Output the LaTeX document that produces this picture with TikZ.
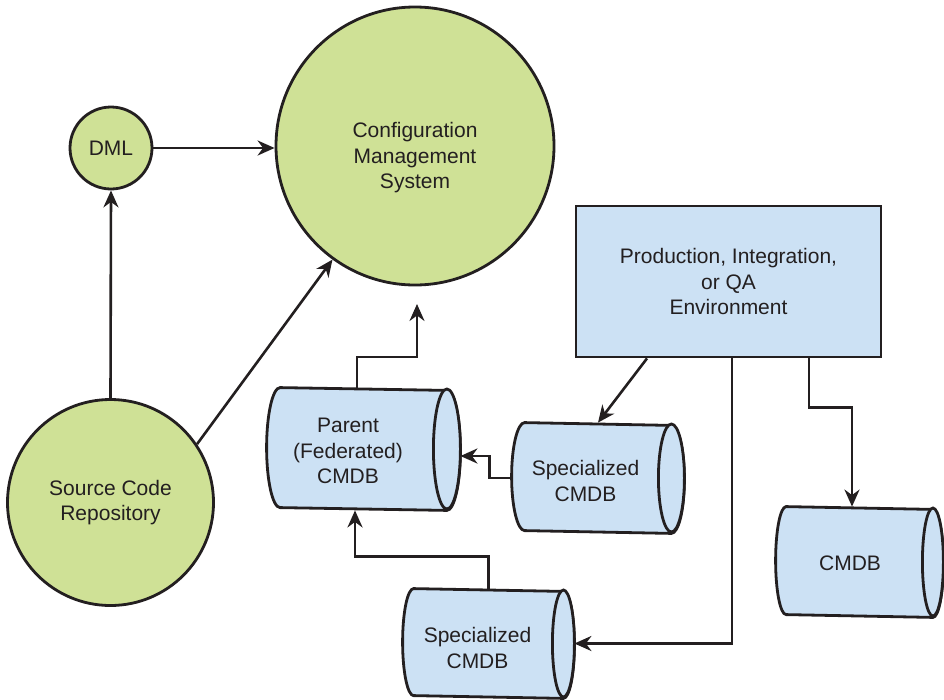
\documentclass[tikz,border=0pt]{standalone}
\usepackage{fontspec}
\setmainfont{Liberation Sans}
\usetikzlibrary{arrows.meta,calc}
\pgfdeclarelayer{background}
\pgfsetlayers{background,main}

\definecolor{ink}{HTML}{231F20}
\definecolor{leaf}{HTML}{CFE196}
\definecolor{sky}{HTML}{CCE1F4}

\tikzset{
  every node/.style={font=\fontsize{21}{25.5}\selectfont, text=ink},
  ball/.style={circle, draw=ink, fill=leaf, line width=2.8pt, inner sep=0pt, align=center},
  envbox/.style={rectangle, draw=ink, fill=sky, line width=2.8pt, inner sep=0pt, align=center},
  cylspot/.style={rectangle, inner sep=0pt, outer sep=1.4pt},
  cylline/.style={draw=ink, fill=sky, line width=2.8pt},
  caption/.style={align=center, inner sep=0pt},
  flow/.style={draw=ink, line width=2.6pt, -{Stealth[length=17pt,width=15pt,inset=5.5pt]}},
}

% horizontal storage cylinder filling the box of a named node:
% #1 node name, #2 x-radius of the end caps, #3 half the height
\newcommand\cylinderat[3]{%
  \begin{pgfonlayer}{background}
    \draw[cylline] ($(#1.north west)+(#2,0)$)
      arc[start angle=270,end angle=90,x radius=#2,y radius=#3]
      -- ($(#1.south east)+(-#2,0)$)
      arc[start angle=90,end angle=-90,x radius=#2,y radius=#3] -- cycle;
    \draw[cylline] ($(#1.east)+(-#2,0)$) ellipse[x radius=#2,y radius=#3];
  \end{pgfonlayer}%
}

\begin{document}
\begin{tikzpicture}[x=1pt,y=-1pt]
\useasboundingbox (0,0) rectangle (944,699);

% circles
\node[ball, minimum size=82pt] (dml) at (111,148) {DML};
\node[ball, minimum size=278pt] (cms) at (415,146) {};
\node[caption] (cmstext) at (415,158) {Configuration\\Management\\System};
\node[ball, minimum size=206pt] (scr) at (110.5,502.5) {Source Code\\Repository};

% environment box
\node[envbox, minimum width=305pt, minimum height=151pt] (env) at (728.5,281.5)
  {Production, Integration,\\or QA\\Environment};

% databases
\node[cylspot, minimum width=191pt, minimum height=120pt] (parent) at (363.5,449) {};
\node[cylspot, minimum width=170pt, minimum height=108pt] (spec1) at (598,478) {};
\node[cylspot, minimum width=169pt, minimum height=107pt] (spec2) at (488.5,643.5) {};
\node[cylspot, minimum width=165pt, minimum height=108pt] (cmdb) at (859.5,562) {};

\cylinderat{parent}{13.5}{60}
\cylinderat{spec1}{13}{54}
\cylinderat{spec2}{11}{53.5}
\cylinderat{cmdb}{10.5}{54}

\node[caption] (parenttext) at ($(parent)+(-15.5,2)$) {Parent\\(Federated)\\CMDB};
\node[caption] (spec1text) at ($(spec1)+(-12.5,3)$) {Specialized\\CMDB};
\node[caption] (spec2text) at ($(spec2)+(-11,4.5)$) {Specialized\\CMDB};
\node[caption] (cmdbtext) at ($(cmdb)+(-9.5,1)$) {CMDB};

% connectors
\coordinate (cmsfeed) at (417,304);
\draw[flow] (dml.east) -- (dml.east -| cms.west);
\draw[flow] (scr.north) -- (dml.south);
\draw[flow] (scr.34.5) -- (cms.234.5);
\draw[flow] ($(parent.north)+(-6.5,0)$) |- ($(cmsfeed)+(0,53)$) -- (cmsfeed);
\draw[flow] ($(env.south)+(-81.5,0)$) -- (spec1.north);
\draw[flow] (spec1.west) -- ++(-22,0) |- ($(parent.east)+(0,7)$);
\draw[flow] (spec2.north) -- ++(0,-32) -| ($(parent.south)+(-8.5,0)$);
\draw[flow] ($(env.south)+(3.5,0)$) |- (spec2.east);
\draw[flow] ($(env.south)+(80.5,0)$) -- ++(0,49) -| ($(cmdb.north)+(-7.5,0)$);
\end{tikzpicture}
\end{document}
